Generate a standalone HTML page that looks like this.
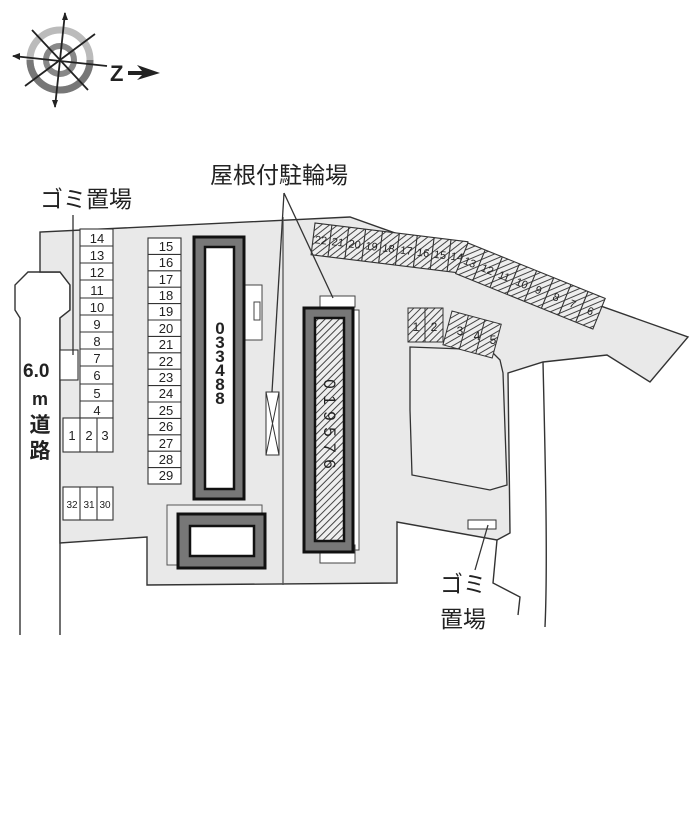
<!DOCTYPE html>
<html><head><meta charset="utf-8"><style>
html,body{margin:0;padding:0;background:#fff;}
svg{display:block;}
text{font-family:"Liberation Sans","Noto Sans CJK JP",sans-serif;fill:#222;}
</style></head><body>
<svg width="700" height="823" viewBox="0 0 700 823" xmlns="http://www.w3.org/2000/svg">
<defs>
<pattern id="h" width="5" height="5" patternUnits="userSpaceOnUse" patternTransform="rotate(45)">
<rect width="5" height="5" fill="#eee"/><line x1="0" y1="0" x2="0" y2="5" stroke="#444" stroke-width="2"/>
</pattern>
</defs>
<!-- compass -->
<g transform="translate(60,60)">
<circle r="30" fill="none" stroke="#bbb" stroke-width="7"/>
<path d="M-30,0 A30,30 0 0 0 30,0" fill="none" stroke="#777" stroke-width="7"/>
<circle r="14" fill="none" stroke="#888" stroke-width="6"/>
<g stroke="#222" stroke-width="1.8">
<line x1="5" y1="-47" x2="-5" y2="47"/>
<line x1="-47" y1="-4" x2="47" y2="6"/>
<line x1="-28" y1="-30" x2="28" y2="30"/>
<line x1="35" y1="-26" x2="-35" y2="26"/>
</g>
<polygon points="5,-48 2,-40 8,-40" fill="#222"/>
<polygon points="-48,-4 -40,-7 -40,0" fill="#222"/>
<polygon points="-5,48 -8,40 -2,40" fill="#222"/>
</g>
<text x="110" y="81" font-size="22" font-weight="bold">Z</text>
<polygon points="128,71 142,71 137,65 160,73 137,80 142,75 128,75" fill="#222"/>

<!-- road -->
<path d="M20,635 L20,318 L15,310 L15,285 L28,272 L60,272 L70,285 L70,310 L60,318 L60,635" fill="#fff" stroke="#333" stroke-width="1.4"/>
<!-- site -->
<path d="M40,272 L40,232 L350,217 L688,337 L650,382 L607,355 L543,362 L508,373 L510,533 L497,540 L397,522 L397,583 L147,585 L147,537 L60,543 L60,318 L70,310 L70,285 L60,272 Z" fill="#e9e9e9" stroke="#333" stroke-width="1.4"/>
<path d="M543,362 C545,450 548,560 545,627" fill="none" stroke="#333" stroke-width="1.4"/>
<path d="M497,540 L493,583 L520,597 L518,615" fill="none" stroke="#333" stroke-width="1.4"/>
<!-- inner lot -->
<path d="M410,347 L490,350 L500,360 L503,373 L507,485 L490,490 L412,475 L410,410 Z" fill="#ececec" stroke="#333" stroke-width="1.3"/>
<line x1="283" y1="217" x2="283" y2="585" stroke="#555" stroke-width="1.3"/>

<!-- left parking column -->
<g fill="#fff" stroke="#333" stroke-width="1.1">
<rect x="80" y="229" width="33" height="189"/>
<rect x="63" y="418" width="50" height="34"/>
<rect x="63" y="487" width="50" height="33"/>
<rect x="60" y="350" width="18" height="30"/>
<rect x="148" y="238" width="33" height="246"/>
</g>
<g stroke="#333" stroke-width="1.1">
<line x1="80" y1="246" x2="113" y2="246"/><line x1="80" y1="263" x2="113" y2="263"/><line x1="80" y1="280" x2="113" y2="280"/><line x1="80" y1="298" x2="113" y2="298"/><line x1="80" y1="315" x2="113" y2="315"/><line x1="80" y1="332" x2="113" y2="332"/><line x1="80" y1="349" x2="113" y2="349"/><line x1="80" y1="366" x2="113" y2="366"/><line x1="80" y1="384" x2="113" y2="384"/><line x1="80" y1="401" x2="113" y2="401"/>
<line x1="80" y1="418" x2="80" y2="452"/><line x1="97" y1="418" x2="97" y2="452"/>
<line x1="80" y1="487" x2="80" y2="520"/><line x1="97" y1="487" x2="97" y2="520"/>
</g>
<g font-size="13" text-anchor="middle">
<text x="97" y="243">14</text><text x="97" y="260">13</text><text x="97" y="277">12</text><text x="97" y="295">11</text><text x="97" y="312">10</text><text x="97" y="329">9</text><text x="97" y="346">8</text><text x="97" y="363">7</text><text x="97" y="380">6</text><text x="97" y="398">5</text><text x="97" y="415">4</text>
<text x="72" y="440">1</text><text x="89" y="440">2</text><text x="105" y="440">3</text>
</g>
<g font-size="10" text-anchor="middle"><text x="72" y="508">32</text><text x="89" y="508">31</text><text x="105" y="508">30</text></g>
<g stroke="#333" stroke-width="1.1">
<line x1="148" y1="254.4" x2="181" y2="254.4"/><line x1="148" y1="270.8" x2="181" y2="270.8"/><line x1="148" y1="287.2" x2="181" y2="287.2"/><line x1="148" y1="303.6" x2="181" y2="303.6"/><line x1="148" y1="320" x2="181" y2="320"/><line x1="148" y1="336.4" x2="181" y2="336.4"/><line x1="148" y1="352.8" x2="181" y2="352.8"/><line x1="148" y1="369.2" x2="181" y2="369.2"/><line x1="148" y1="385.6" x2="181" y2="385.6"/><line x1="148" y1="402" x2="181" y2="402"/><line x1="148" y1="418.4" x2="181" y2="418.4"/><line x1="148" y1="434.8" x2="181" y2="434.8"/><line x1="148" y1="451.2" x2="181" y2="451.2"/><line x1="148" y1="467.6" x2="181" y2="467.6"/>
</g>
<g font-size="13" text-anchor="middle">
<text x="166" y="251">15</text><text x="166" y="267">16</text><text x="166" y="284">17</text><text x="166" y="300">18</text><text x="166" y="316">19</text><text x="166" y="333">20</text><text x="166" y="349">21</text><text x="166" y="366">22</text><text x="166" y="382">23</text><text x="166" y="398">24</text><text x="166" y="415">25</text><text x="166" y="431">26</text><text x="166" y="448">27</text><text x="166" y="464">28</text><text x="166" y="480">29</text>
</g>

<!-- building 1 -->
<rect x="245" y="285" width="17" height="55" fill="#fff" stroke="#444" stroke-width="1"/>
<rect x="254" y="302" width="6" height="18" fill="none" stroke="#444"/>
<rect x="194" y="237" width="50" height="262" fill="#777" stroke="#111" stroke-width="3"/>
<rect x="205" y="247" width="29" height="242" fill="#fff" stroke="#111" stroke-width="2.5"/>
<g font-size="17" font-weight="bold" text-anchor="middle">
<text x="220" y="334">0</text><text x="220" y="348">3</text><text x="220" y="362">3</text><text x="220" y="376">4</text><text x="220" y="390">8</text><text x="220" y="404">8</text>
</g>
<!-- building 2 -->
<rect x="167" y="505" width="95" height="60" fill="#eee" stroke="#555" stroke-width="1"/>
<rect x="178" y="514" width="87" height="54" fill="#777" stroke="#111" stroke-width="3"/>
<rect x="190" y="526" width="64" height="30" fill="#fff" stroke="#111" stroke-width="2.5"/>
<!-- bicycle -->
<rect x="266" y="392" width="13" height="63" fill="#fff" stroke="#333"/>
<path d="M266,392 L279,455 M279,392 L266,455" stroke="#333"/>

<!-- building 3 -->
<rect x="320" y="296" width="35" height="11" fill="#fff" stroke="#444"/>
<rect x="347" y="310" width="12" height="240" fill="#fff" stroke="#444"/>
<rect x="320" y="545" width="35" height="18" fill="#fff" stroke="#444"/>
<rect x="304" y="308" width="49" height="244" fill="#777" stroke="#111" stroke-width="3"/>
<rect x="315" y="318" width="29" height="223" fill="url(#h)" stroke="#111" stroke-width="2.5"/>
<g font-size="17" text-anchor="middle" fill="#222">
<text x="330" y="390" transform="rotate(90 330 384)">0</text>
<text x="330" y="406" transform="rotate(90 330 400)">1</text>
<text x="330" y="422" transform="rotate(90 330 416)">9</text>
<text x="330" y="438" transform="rotate(90 330 432)">5</text>
<text x="330" y="454" transform="rotate(90 330 448)">7</text>
<text x="330" y="470" transform="rotate(90 330 464)">6</text>
</g>

<!-- hatched parking top -->
<g transform="translate(315,223) rotate(7)" stroke="#333" stroke-width="1.1">
<rect x="0" y="0" width="154" height="32" fill="url(#h)"/>
<path d="M17,0V32M34,0V32M51,0V32M68,0V32M85,0V32M103,0V32M120,0V32M137,0V32"/>
<g font-size="11" text-anchor="middle" stroke="none">
<text x="8" y="20">22</text><text x="25" y="20">21</text><text x="42" y="20">20</text><text x="59" y="20">19</text><text x="76" y="20">18</text><text x="94" y="20">17</text><text x="111" y="20">16</text><text x="128" y="20">15</text><text x="145" y="20">14</text>
</g>
</g>
<g transform="translate(468,243) rotate(22)" stroke="#333" stroke-width="1.1">
<rect x="0" y="0" width="148" height="33" fill="url(#h)"/>
<path d="M18.5,0V33M37,0V33M55.5,0V33M74,0V33M92.5,0V33M111,0V33M129.5,0V33"/>
<g font-size="11" text-anchor="middle" stroke="none">
<text x="9" y="21">13</text><text x="28" y="21">12</text><text x="46" y="21">11</text><text x="65" y="21">10</text><text x="83" y="21">9</text><text x="102" y="21">8</text><text x="120" y="21">7</text><text x="139" y="21">6</text>
</g>
</g>
<rect x="408" y="308" width="35" height="34" fill="url(#h)" stroke="#333"/>
<line x1="425" y1="308" x2="425" y2="342" stroke="#333"/>
<g transform="translate(452,311) rotate(15)" stroke="#333">
<rect x="0" y="0" width="51" height="35" fill="url(#h)"/>
<path d="M17,0V35M34,0V35"/>
</g>
<g font-size="12" text-anchor="middle"><text x="416" y="331">1</text><text x="434" y="331">2</text><text x="460" y="335">3</text><text x="477" y="340">4</text><text x="493" y="344">5</text></g>

<!-- gomi box right -->
<rect x="468" y="520" width="28" height="9" fill="#fff" stroke="#333"/>

<!-- labels & leaders -->
<g stroke="#333" stroke-width="1.3" fill="none">
<line x1="73" y1="215" x2="73" y2="355"/>
<line x1="284" y1="193" x2="272" y2="392"/>
<line x1="284" y1="193" x2="333" y2="298"/>
<line x1="488" y1="525" x2="475" y2="570"/>
</g>
<text x="210" y="183" font-size="23">屋根付駐輪場</text>
<text x="40" y="207" font-size="23">ゴミ置場</text>
<text x="23" y="377" font-size="19" font-weight="bold">6.0</text>
<text x="40" y="405" font-size="18" font-weight="bold" text-anchor="middle">m</text>
<text x="40" y="432" font-size="21" font-weight="bold" text-anchor="middle">道</text>
<text x="40" y="458" font-size="21" font-weight="bold" text-anchor="middle">路</text>
<text x="440" y="592" font-size="23">ゴミ</text>
<text x="440" y="627" font-size="23">置場</text>
</svg>
</body></html>
